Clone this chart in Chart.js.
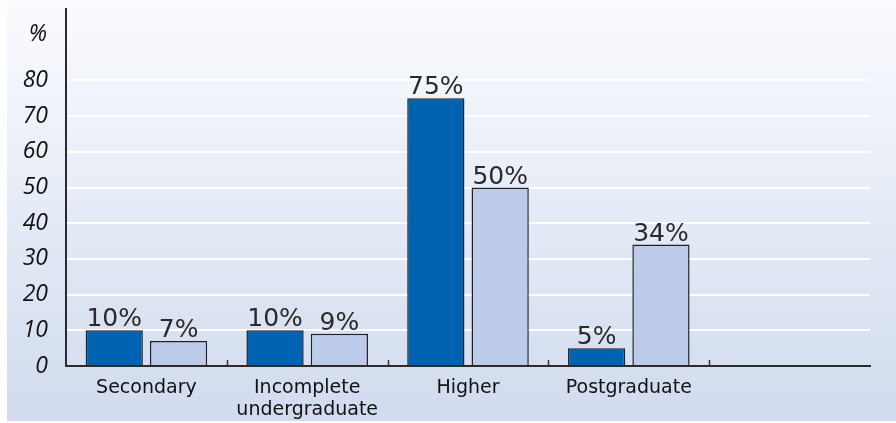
<!DOCTYPE html>
<html lang="en">
  <head>
    <meta charset="UTF-8" />
    <title>Education</title>
    <script src="https://cdn.jsdelivr.net/npm/chart.js@4/dist/chart.umd.min.js"></script>
    <style>
      html, body { margin: 0; padding: 0; background: #fff; }
      #wrap { width: 896px; height: 423px; position: relative; }
    </style>
  </head>
  <body>
    <div id="wrap"><canvas id="eduChart"></canvas></div>
    <script>
      // data
      const categories = ["Secondary", ["Incomplete", "undergraduate"], "Higher", "Postgraduate", ""];
      const seriesDark = [10, 10, 75, 5, null];
      const seriesLight = [7, 9, 50, 34, null];
      const yTicks = [0, 10, 20, 30, 40, 50, 60, 70, 80];
      const yUnit = "%";

      const fontFamily = "'Open Sans', 'Noto Sans', sans-serif";
      const labelFamily = "'DejaVu Sans', sans-serif";

      // gradient background, white strip on the left
      const bgPlugin = {
        id: "bg",
        beforeDraw(chart) {
          const c = chart.ctx;
          const g = c.createLinearGradient(0, 0, 0, chart.height);
          g.addColorStop(0, "#fafbfe");
          g.addColorStop(1, "#d0dbee");
          c.save();
          c.fillStyle = "#ffffff";
          c.fillRect(0, 0, chart.width, chart.height);
          c.fillStyle = g;
          c.fillRect(7, 0, chart.width - 7, chart.height - 2);
          c.restore();
        },
      };

      // value labels, "%" unit and the small upward ticks between groups
      const extrasPlugin = {
        id: "extras",
        afterDatasetsDraw(chart) {
          const c = chart.ctx;
          const x = chart.scales.x;
          const y = chart.scales.y;
          c.save();
          // ticks between categories
          c.strokeStyle = "#333";
          c.lineWidth = 1.5;
          for (let i = 1; i < categories.length; i++) {
            const px = Math.round((x.getPixelForTick(i - 1) + x.getPixelForTick(i)) / 2) + 0.5;
            c.beginPath();
            c.moveTo(px, y.bottom);
            c.lineTo(px, y.bottom - 6);
            c.stroke();
          }
          // value labels
          c.fillStyle = "#2a2a2a";
          c.font = "25px " + labelFamily;
          c.textAlign = "center";
          c.textBaseline = "bottom";
          chart.data.datasets.forEach(function (ds, di) {
            const meta = chart.getDatasetMeta(di);
            meta.data.forEach(function (bar, i) {
              if (ds.data[i] === null) return;
              c.fillText(ds.data[i] + "%", bar.x, bar.y + 2);
            });
          });
          // unit label
          c.fillStyle = "#111";
          c.font = "italic 23px " + fontFamily;
          c.textAlign = "right";
          c.textBaseline = "middle";
          c.fillText(yUnit, 47, y.getPixelForValue(93));
          c.restore();
        },
      };

      const ctx = document.querySelector("#eduChart").getContext("2d");
      const myChart = new Chart(ctx, {
        type: "bar",
        data: {
          labels: categories,
          datasets: [
            {
              data: seriesDark,
              backgroundColor: "#0063b1",
              borderColor: "#222222",
              borderWidth: 1.5,
            },
            {
              data: seriesLight,
              backgroundColor: "#bccbe9",
              borderColor: "#222222",
              borderWidth: 1.5,
            },
          ],
        },
        options: {
          responsive: true,
          maintainAspectRatio: false,
          animation: false,
          layout: { padding: { top: 9, right: 26, left: 0, bottom: 0 } },
          plugins: { legend: { display: false }, tooltip: { enabled: false } },
          datasets: { bar: { categoryPercentage: 0.8, barPercentage: 0.89 } },
          scales: {
            x: {
              grid: { display: false },
              border: { display: true, color: "#2b2b2b", width: 2 },
              ticks: {
                color: "#111",
                font: { family: labelFamily, size: 19, lineHeight: 1.16 },
                padding: 3,
                maxRotation: 0,
                autoSkip: false,
              },
              afterFit(scale) {
                scale.height = 57;
                scale.paddingLeft = 0;
                scale.paddingRight = 0;
              },
            },
            y: {
              min: 0,
              max: 100,
              afterBuildTicks(scale) {
                scale.ticks = yTicks.map(function (v) { return { value: v }; });
              },
              grid: {
                drawTicks: false,
                color: function (c) { return c.tick && c.tick.value > 0 ? "#ffffff" : "rgba(0,0,0,0)"; },
                lineWidth: 2,
              },
              border: { display: true, color: "#2b2b2b", width: 2 },
              ticks: {
                color: "#111",
                font: { family: fontFamily, size: 23, style: "italic" },
                padding: 18,
              },
              afterFit(scale) {
                scale.width = 66;
                scale.paddingTop = 0;
                scale.paddingBottom = 0;
              },
            },
          },
        },
        plugins: [bgPlugin, extrasPlugin],
      });
    </script>
  </body>
</html>
